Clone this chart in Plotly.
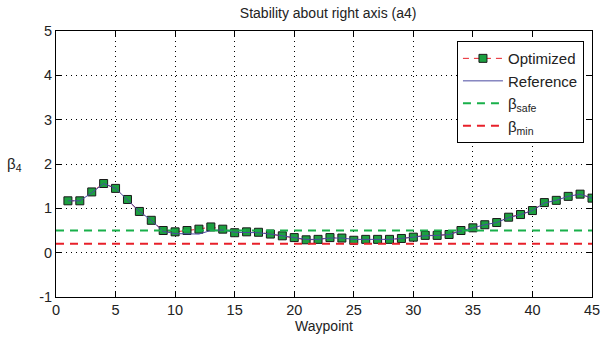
import plotly.graph_objects as go

waypoints = list(range(1, 46))
optimized = [1.17, 1.17, 1.37, 1.56, 1.45, 1.20, 0.93, 0.73, 0.50, 0.47,
             0.50, 0.53, 0.58, 0.53, 0.45, 0.47, 0.46, 0.42, 0.38, 0.34,
             0.29, 0.30, 0.34, 0.33, 0.28, 0.30, 0.30, 0.30, 0.32, 0.35,
             0.39, 0.39, 0.41, 0.50, 0.56, 0.63, 0.68, 0.80, 0.86, 0.95,
             1.13, 1.18, 1.27, 1.32, 1.23]
reference = [1.17, 1.17, 1.35, 1.56, 1.45, 1.20, 0.93, 0.73, 0.48, 0.43,
             0.42, 0.42, 0.50, 0.51, 0.46, 0.46, 0.45, 0.42, 0.38, 0.33,
             0.30, 0.30, 0.33, 0.33, 0.30, 0.30, 0.30, 0.30, 0.32, 0.35,
             0.38, 0.39, 0.41, 0.49, 0.56, 0.63, 0.68, 0.79, 0.86, 0.95,
             1.12, 1.18, 1.27, 1.32, 1.23]
beta_safe = 0.5
beta_min = 0.2
x_range = [0, 45]
y_range = [-1, 5]
x_ticks = list(range(0, 46, 5))
y_ticks = list(range(-1, 6))
y_ticklabels = ["-1", "0", "1", "2", "3", "4", "5"]

fig = go.Figure()
fig.add_trace(go.Scatter(
    x=waypoints, y=optimized, mode="lines+markers", name="Optimized",
    line=dict(color="#e8202a", width=1, dash="6px,5px"),
    marker=dict(symbol="square", size=8, color="#1ca040",
                line=dict(color="#1a1a1a", width=1))))
fig.add_trace(go.Scatter(
    x=waypoints, y=reference, mode="lines", name="Reference",
    line=dict(color="#4a4aa0", width=1)))
fig.add_trace(go.Scatter(
    x=x_range, y=[beta_safe, beta_safe], mode="lines", name="β<sub>safe</sub>",
    line=dict(color="#18b04a", width=2, dash="8px,6px")))
fig.add_trace(go.Scatter(
    x=x_range, y=[beta_min, beta_min], mode="lines", name="β<sub>min</sub>",
    line=dict(color="#e8202a", width=2, dash="8px,6px")))

axis_common = dict(
    showline=True, linecolor="black", linewidth=1, mirror="allticks",
    ticks="inside", ticklen=5, tickcolor="black",
    showgrid=True, gridcolor="black", gridwidth=1, griddash="1px,4px",
    zeroline=False, tickfont=dict(size=14.5, color="#222"),
)

fig.update_layout(
    width=610, height=343,
    margin=dict(l=56, r=10, t=31, b=46),
    paper_bgcolor="white", plot_bgcolor="white",
    font=dict(family="Liberation Sans, Arial", size=14, color="#222"),
    title=dict(text="Stability about right axis (a4)", x=0.538, xanchor="center",
               y=0.962, yanchor="middle", font=dict(size=14)),
    xaxis=dict(range=x_range, tickvals=x_ticks,
               title=dict(text="Waypoint", standoff=0, font=dict(size=14)),
               **axis_common),
    yaxis=dict(range=y_range, tickvals=y_ticks, ticktext=y_ticklabels,
               **axis_common),
    legend=dict(x=0.985, y=0.962, xanchor="right", yanchor="top",
                bgcolor="white", bordercolor="black", borderwidth=1,
                font=dict(size=15), tracegroupgap=0, itemwidth=40),
    showlegend=True,
)
fig.add_annotation(text="β<sub>4</sub>", xref="paper", yref="paper",
                   x=-0.078, y=0.5, showarrow=False, xanchor="center",
                   font=dict(size=15))

fig.write_html("out.html")
